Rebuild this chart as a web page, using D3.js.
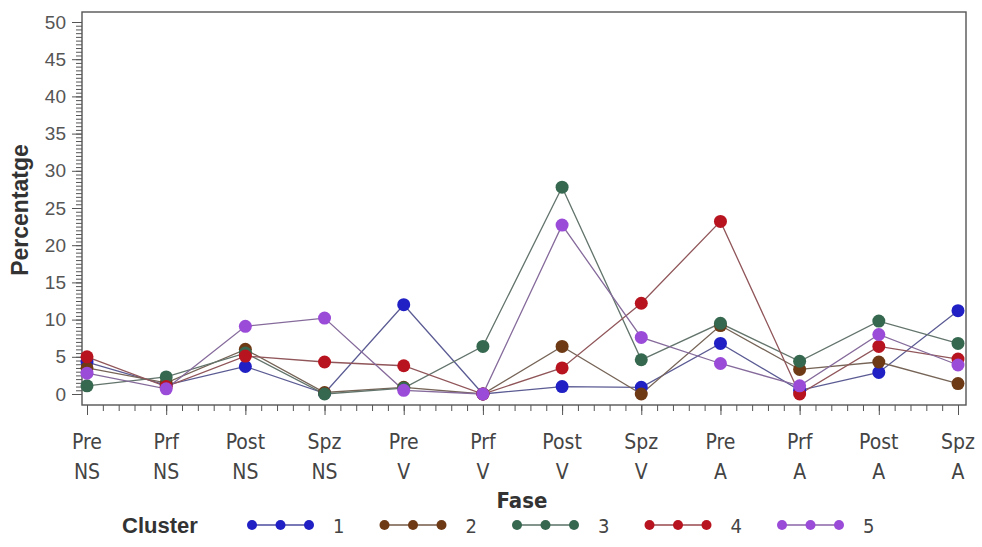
<!DOCTYPE html>
<html>
<head>
<meta charset="utf-8">
<script src="https://cdn.jsdelivr.net/npm/d3@7"></script>
<style>
  body { margin: 0; background: #fff; }
  svg { display: block; }
</style>
</head>
<body>
<div id="chart-area"></div>
<script>
// category labels (two lines each)
var fases = ["Pre", "Prf", "Post", "Spz", "Pre", "Prf", "Post", "Spz", "Pre", "Prf", "Post", "Spz"];
var grups = ["NS", "NS", "NS", "NS", "V", "V", "V", "V", "A", "A", "A", "A"];

// series values, one array per cluster
var cluster1 = [4.3, 1.2, 3.7, 0.1, 12.0, 0, 1.0, 0.9, 6.8, 0.5, 2.9, 11.2];
var cluster2 = [3.5, 1.5, 6.0, 0.2, 0.9, 0, 6.4, 0, 9.2, 3.3, 4.3, 1.4];
var cluster3 = [1.1, 2.3, 5.5, 0, 0.8, 6.4, 27.8, 4.6, 9.5, 4.4, 9.8, 6.8];
var cluster4 = [5.0, 1.0, 5.1, 4.3, 3.8, 0, 3.5, 12.2, 23.2, 0, 6.4, 4.7];
var cluster5 = [2.8, 0.7, 9.1, 10.2, 0.5, 0, 22.7, 7.6, 4.1, 1.1, 8.0, 3.9];

var clusterNames = ["1", "2", "3", "4", "5"];
var yTicks = [0, 5, 10, 15, 20, 25, 30, 35, 40, 45, 50];

var colors = ["#2020c4", "#6e3a16", "#35684f", "#b8141f", "#9a4bd8"];

var series = [cluster1, cluster2, cluster3, cluster4, cluster5].map(function(vals, i){
    return { name: clusterNames[i], color: colors[i],
             values: vals.map(function(v, j){ return { x: j + 1, y: v }; }) };
});

var W = 982, H = 547;
var frame = { left: 82, right: 966, top: 12, bottom: 405 };

var svg = d3.select("#chart-area").append("svg")
    .attr("width", W).attr("height", H);

var x = d3.scaleLinear().domain([1, 12]).range([87, 958]);
var y = d3.scaleLinear().domain([0, 50]).range([394, 22]);

var sansFont = "'Liberation Sans', Arial, sans-serif";
var catFont = "'Liberation Sans Narrow', 'Arial Narrow', 'DejaVu Sans Condensed', sans-serif";

// frame
svg.append("rect")
    .attr("x", frame.left).attr("y", frame.top)
    .attr("width", frame.right - frame.left)
    .attr("height", frame.bottom - frame.top)
    .attr("fill", "none").attr("stroke", "#555").attr("stroke-width", 1.4);

// y axis: minor ticks then major ticks with labels
var yMinor = d3.range(0, 50.01, 0.5);
var ym = svg.append("g")
    .attr("transform", "translate(" + frame.left + ",0)")
    .call(d3.axisLeft(y).tickValues(yMinor).tickSize(6).tickFormat(""));
ym.select(".domain").remove();
ym.selectAll("line").attr("stroke", "#555");

var yAxis = svg.append("g")
    .attr("transform", "translate(" + frame.left + ",0)")
    .call(d3.axisLeft(y).tickValues(yTicks).tickSize(10).tickPadding(6));
yAxis.select(".domain").remove();
yAxis.selectAll("line").attr("stroke", "#555");
yAxis.selectAll("text")
    .attr("font-family", sansFont)
    .attr("font-size", "19px")
    .attr("fill", "#555");

// x axis
var xMinor = d3.range(1, 12.001, 0.2);
var xm = svg.append("g")
    .attr("transform", "translate(0," + frame.bottom + ")")
    .call(d3.axisBottom(x).tickValues(xMinor).tickSize(6).tickFormat(""));
xm.select(".domain").remove();
xm.selectAll("line").attr("stroke", "#555");

var xAxis = svg.append("g")
    .attr("transform", "translate(0," + frame.bottom + ")")
    .call(d3.axisBottom(x).tickValues(d3.range(1, 13)).tickSize(10).tickFormat(""));
xAxis.select(".domain").remove();
xAxis.selectAll("line").attr("stroke", "#555");

var xl = svg.append("g").attr("class", "x labels");
xl.selectAll("text.l1").data(fases).enter().append("text")
    .attr("x", function(d, i){ return x(i + 1); })
    .attr("y", 449)
    .attr("text-anchor", "middle")
    .attr("font-family", catFont).attr("font-size", "21px").attr("fill", "#444")
    .text(function(d){ return d; });
xl.selectAll("text.l2").data(grups).enter().append("text")
    .attr("x", function(d, i){ return x(i + 1); })
    .attr("y", 479)
    .attr("text-anchor", "middle")
    .attr("font-family", catFont).attr("font-size", "21px").attr("fill", "#444")
    .text(function(d){ return d; });

// axis titles
svg.append("text")
    .attr("x", 522).attr("y", 508)
    .attr("text-anchor", "middle")
    .attr("font-family", catFont).attr("font-size", "22px")
    .attr("font-weight", "bold").attr("fill", "#333")
    .text("Fase");

svg.append("text")
    .attr("transform", "translate(28,210) rotate(-90)")
    .attr("text-anchor", "middle")
    .attr("font-family", sansFont).attr("font-size", "23px")
    .attr("font-weight", "bold").attr("fill", "#333")
    .text("Percentatge");

// lines
var line = d3.line()
    .x(function(d){ return x(d.x); })
    .y(function(d){ return y(d.y); });

svg.append("g").selectAll("path").data(series).enter().append("path")
    .attr("d", function(d){ return line(d.values); })
    .attr("fill", "none")
    .attr("stroke", function(d){ return d3.interpolateRgb(d.color, "#7a7a7a")(0.65); })
    .attr("stroke-width", 1.3);

// markers
svg.append("g").selectAll("g").data(series).enter().append("g")
    .attr("fill", function(d){ return d.color; })
    .selectAll("circle").data(function(d){ return d.values; }).enter().append("circle")
    .attr("cx", function(d){ return x(d.x); })
    .attr("cy", function(d){ return y(d.y); })
    .attr("r", 6.5);

// legend
var legend = svg.append("g").attr("transform", "translate(0,525)");
legend.append("text")
    .attr("x", 122).attr("y", 8)
    .attr("font-family", sansFont).attr("font-size", "22px")
    .attr("font-weight", "bold").attr("fill", "#333")
    .text("Cluster");

var legendX = d3.scalePoint().domain(clusterNames).range([252, 782]);
var item = legend.selectAll("g.item").data(series).enter().append("g")
    .attr("class", "item")
    .attr("transform", function(d){ return "translate(" + legendX(d.name) + ",0)"; });
item.append("line")
    .attr("x1", 0).attr("x2", 57).attr("y1", 0).attr("y2", 0)
    .attr("stroke", function(d){ return d3.interpolateRgb(d.color, "#7a7a7a")(0.5); })
    .attr("stroke-width", 1.5);
item.selectAll("circle").data(function(d){ return [0, 28.5, 57].map(function(o){ return { o: o, c: d.color }; }); })
    .enter().append("circle")
    .attr("cx", function(d){ return d.o; }).attr("cy", 0).attr("r", 5)
    .attr("fill", function(d){ return d.c; });
item.append("text")
    .attr("x", 81).attr("y", 8)
    .attr("font-family", catFont).attr("font-size", "20px").attr("fill", "#444")
    .text(function(d){ return d.name; });
</script>
</body>
</html>
